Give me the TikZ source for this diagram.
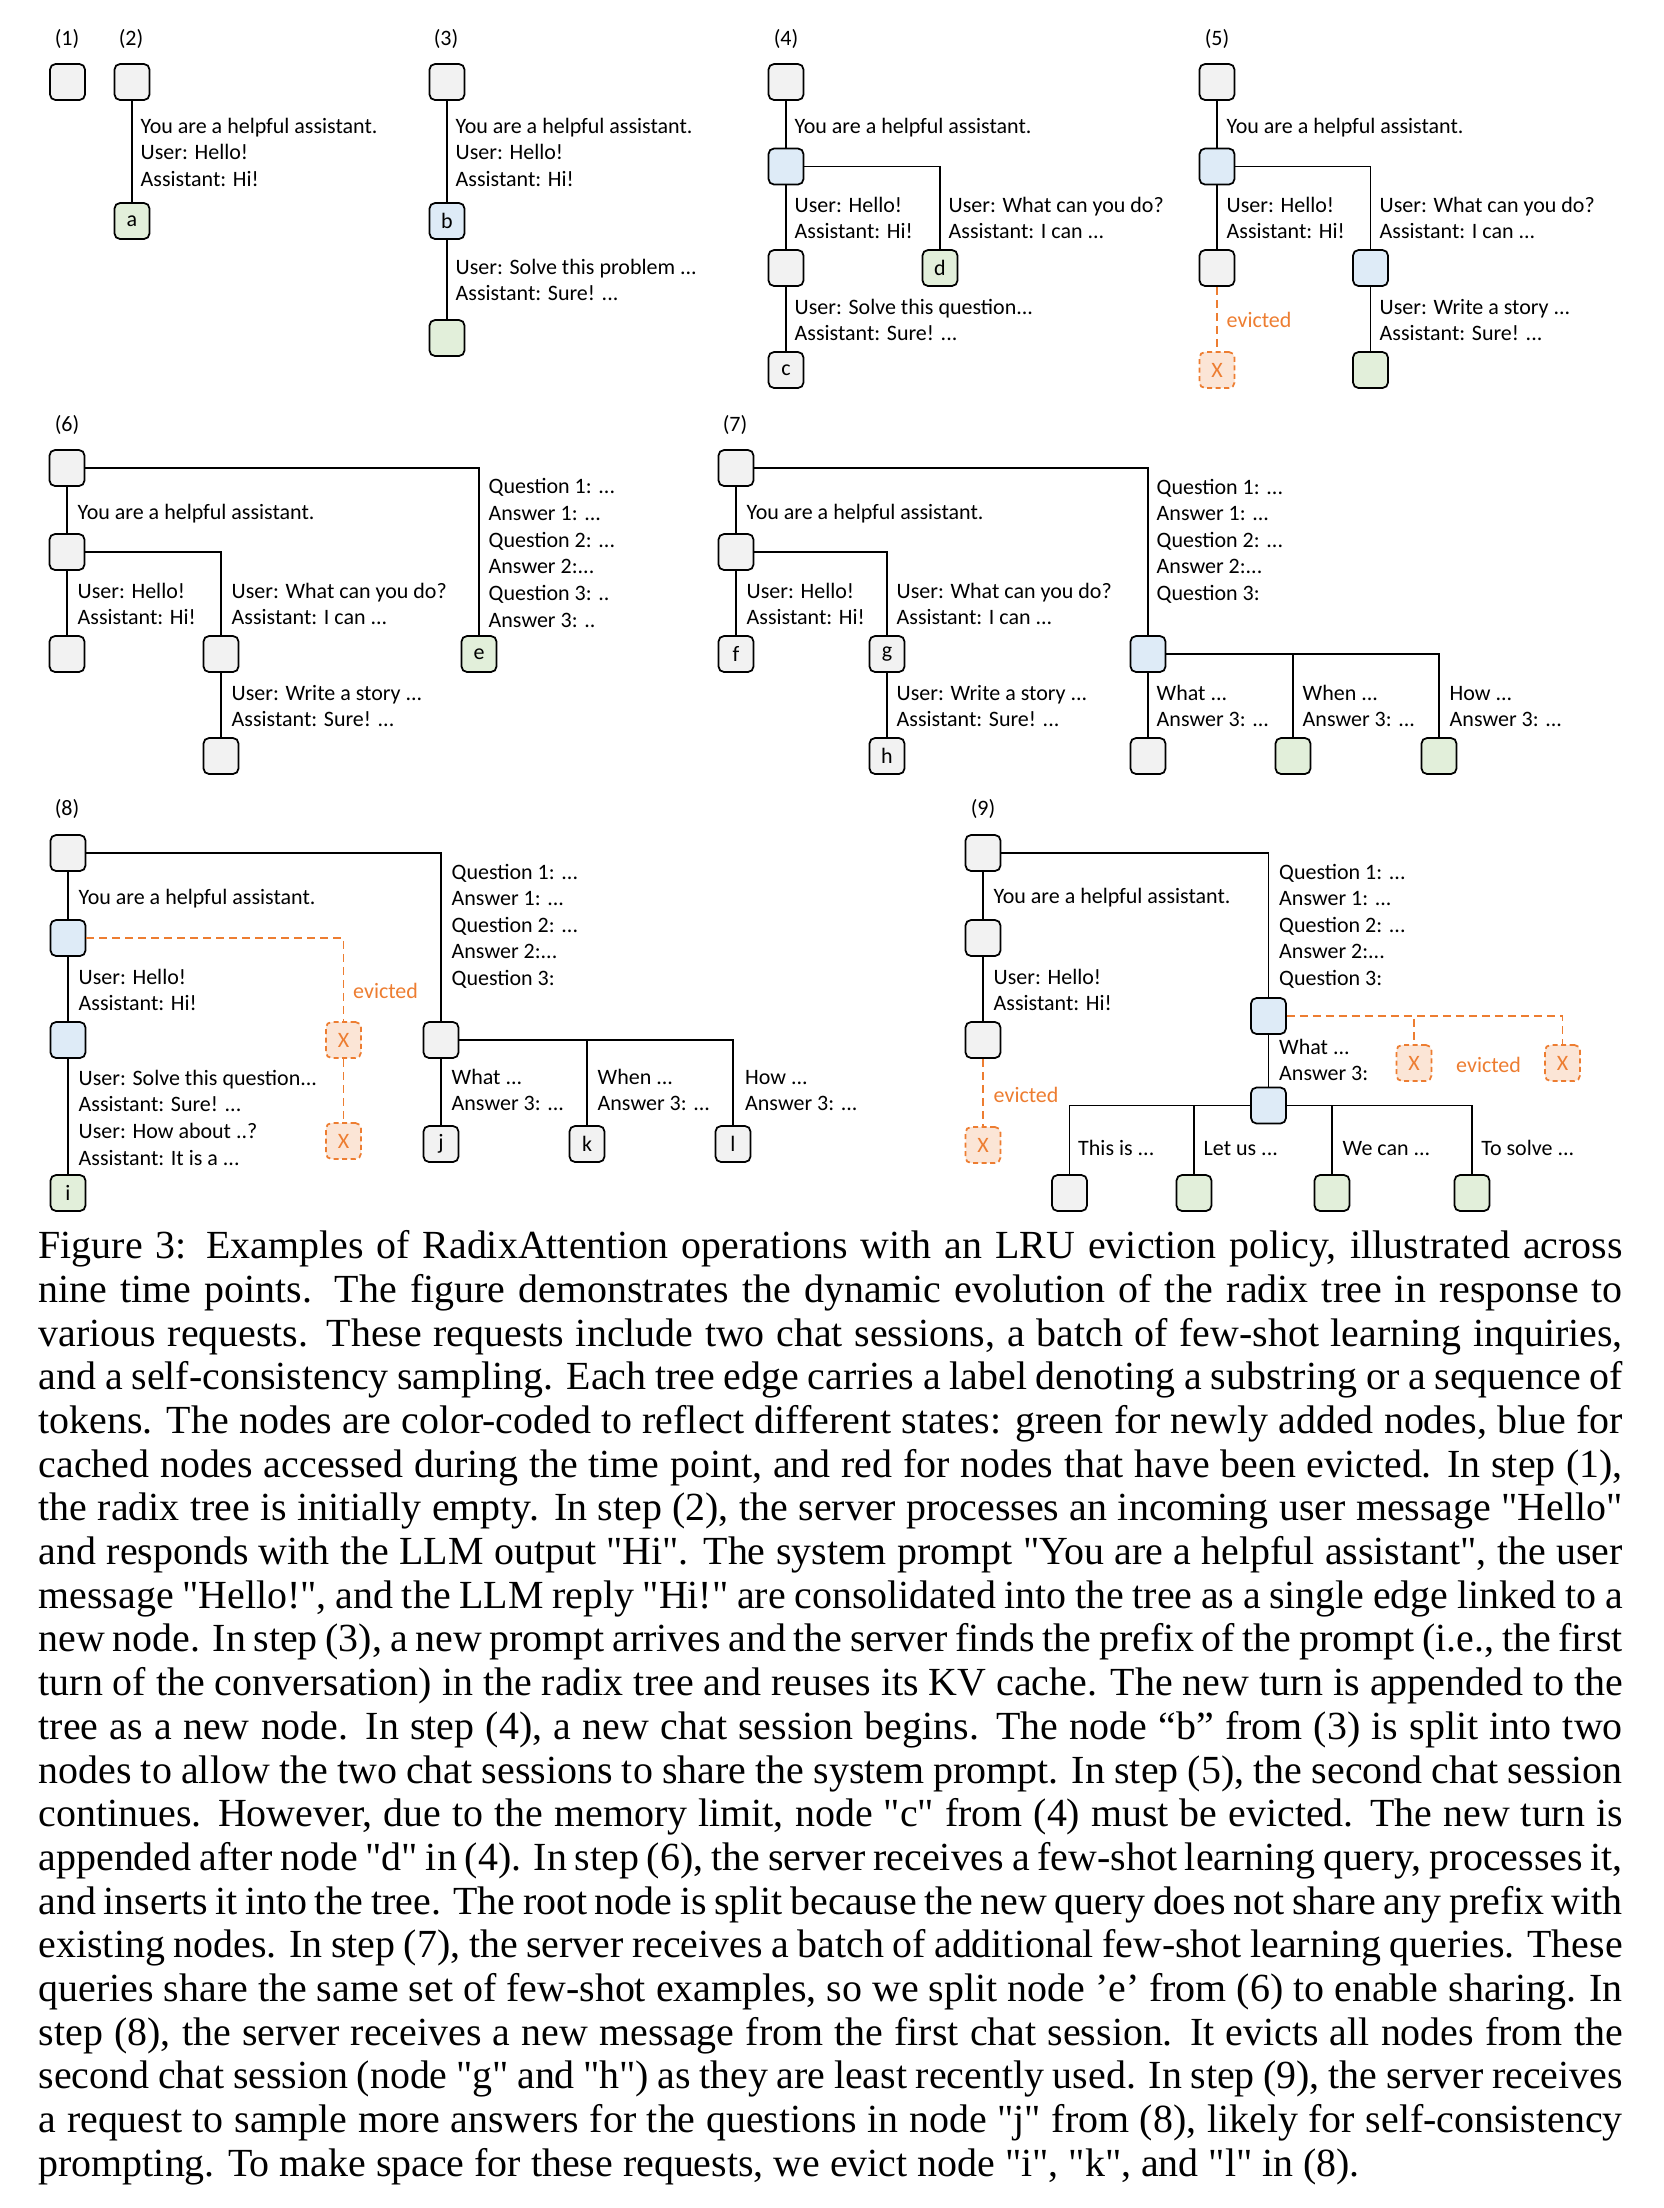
\documentclass[tikz,border=0pt]{standalone}
\usepackage{fontspec}
\setmainfont{Liberation Serif}[Ligatures=TeXOff]
\newfontfamily\carlito{Carlito}
\usepackage{xcolor}
\usepackage{tikz}
\definecolor{radgrey}{HTML}{F2F2F2}
\definecolor{radgreen}{HTML}{E2EFDA}
\definecolor{radblue}{HTML}{DEEBF7}
\definecolor{radpeach}{HTML}{FBE5D6}
\definecolor{radorange}{HTML}{ED7D31}
\newcommand{\diagfont}{\carlito\fontsize{6.26pt}{7.57pt}\selectfont}
\newcommand{\capfont}{\fontsize{11.35pt}{12.43pt}\selectfont}

\begin{document}
\begin{tikzpicture}[x=1mm, y=-1mm,
    nd/.style={rectangle, draw, rounded corners=0.55mm, line width=0.5pt,
               minimum width=3.5mm, minimum height=3.6mm, inner sep=0pt,
               font=\diagfont},
    old/.style={nd, fill=radgrey},
    new/.style={nd, fill=radgreen},
    hit/.style={nd, fill=radblue},
    gone/.style={nd, fill=radpeach, draw=radorange, text=radorange,
                 dash pattern=on 0.5mm off 0.35mm},
    edge/.style={line width=0.45pt},
    evline/.style={line width=0.5pt, draw=radorange,
                   dash pattern=on 0.8mm off 0.5mm},
    % labels are placed at the baseline of their last line
    lbl/.style={anchor=base west, align=left, inner sep=0pt, font=\diagfont},
    evlbl/.style={lbl, text=radorange},
    tag/.style={anchor=base, inner sep=0pt, font=\diagfont},
    capt/.style={anchor=north west, inner sep=0pt, text width=158.4mm,
                 align=justify, font=\capfont},
  ]
  \useasboundingbox (0,0) rectangle (166.4,220.8);

  % (1) empty tree
  \node[tag] (k1) at (6.7,4.5) {(1)};
  \node[old] (n1) at (6.75,8.2) {};

  % (2) first request
  \node[tag] (k2) at (13.1,4.5) {(2)};
  \node[old] (r2) at (13.2,8.2) {};
  \node[new] (a) at (13.2,22.1) {a};
  \draw[edge] (r2) -- (a);
  \node[lbl] (t2) at (14.0,18.64)
    {You are a helpful assistant.\\User: Hello!\\Assistant: Hi!};

  % (3) new turn appended
  \node[tag] (k3) at (44.6,4.5) {(3)};
  \node[old] (r3) at (44.7,8.2) {};
  \node[hit] (b) at (44.7,22.1) {b};
  \node[new] (n3) at (44.7,33.8) {};
  \draw[edge] (r3) -- (b);
  \draw[edge] (b) -- (n3);
  \node[lbl] (t3a) at (45.5,18.64)
    {You are a helpful assistant.\\User: Hello!\\Assistant: Hi!};
  \node[lbl] (t3b) at (45.5,30.07)
    {User: Solve this problem ...\\Assistant: Sure! ...};

  % (4) second chat session, b split
  \node[tag] (k4) at (78.6,4.5) {(4)};
  \node[old] (r4) at (78.6,8.2) {};
  \node[hit] (s4) at (78.6,16.65) {};
  \node[old] (n4) at (78.6,26.8) {};
  \node[old] (c) at (78.6,37.0) {c};
  \node[new] (d) at (94.0,26.8) {d};
  \draw[edge] (r4) -- (s4);
  \draw[edge] (s4) -- (n4);
  \draw[edge] (n4) -- (c);
  \draw[edge] (s4.east) -| (d.north);
  \node[lbl] (t4a) at (79.4,13.3) {You are a helpful assistant.};
  \node[lbl] (t4b) at (79.4,23.87) {User: Hello!\\Assistant: Hi!};
  \node[lbl] (t4c) at (94.8,23.87) {User: What can you do?\\Assistant: I can ...};
  \node[lbl] (t4d) at (79.4,34.07)
    {User: Solve this question...\\Assistant: Sure! ...};

  % (5) c evicted
  \node[tag] (k5) at (121.7,4.5) {(5)};
  \node[old] (r5) at (121.7,8.2) {};
  \node[hit] (s5) at (121.7,16.65) {};
  \node[old] (n5) at (121.7,26.8) {};
  \node[gone] (x5) at (121.7,37.0) {X};
  \node[hit] (m5) at (137.05,26.8) {};
  \node[new] (g5) at (137.05,37.0) {};
  \draw[edge] (r5) -- (s5);
  \draw[edge] (s5) -- (n5);
  \draw[evline] (n5) -- (x5);
  \draw[edge] (s5.east) -| (m5.north);
  \draw[edge] (m5) -- (g5);
  \node[lbl] (t5a) at (122.6,13.3) {You are a helpful assistant.};
  \node[lbl] (t5b) at (122.6,23.87) {User: Hello!\\Assistant: Hi!};
  \node[lbl] (t5c) at (137.9,23.87) {User: What can you do?\\Assistant: I can ...};
  \node[evlbl] (t5d) at (122.6,32.7) {evicted};
  \node[lbl] (t5e) at (137.9,34.07) {User: Write a story ...\\Assistant: Sure! ...};

  % (6) few-shot query, root split
  \node[tag] (k6) at (6.7,43.1) {(6)};
  \node[old] (r6) at (6.7,46.8) {};
  \node[old] (s6) at (6.7,55.2) {};
  \node[old] (n6) at (6.7,65.4) {};
  \node[old] (m6) at (22.1,65.4) {};
  \node[old] (l6) at (22.1,75.6) {};
  \node[new] (e) at (47.9,65.4) {e};
  \draw[edge] (r6) -- (s6);
  \draw[edge] (s6) -- (n6);
  \draw[edge] (s6.east) -| (m6.north);
  \draw[edge] (m6) -- (l6);
  \draw[edge] (r6.east) -| (e.north);
  \node[lbl] (t6a) at (7.7,51.9) {You are a helpful assistant.};
  \node[lbl] (t6b) at (7.7,62.47) {User: Hello!\\Assistant: Hi!};
  \node[lbl] (t6c) at (23.1,62.47) {User: What can you do?\\Assistant: I can ...};
  \node[lbl] (t6d) at (23.1,72.67) {User: Write a story ...\\Assistant: Sure! ...};
  \node[lbl] (t6e) at (48.8,62.7)
    {Question 1: ...\\Answer 1: ...\\Question 2: ...\\Answer 2:...\\Question 3: ..\\Answer 3: ..};

  % (7) batch of few-shot queries, e split
  \node[tag] (k7) at (73.5,43.1) {(7)};
  \node[old] (r7) at (73.6,46.8) {};
  \node[old] (s7) at (73.6,55.2) {};
  \node[old] (f) at (73.6,65.4) {f};
  \node[old] (g) at (88.7,65.4) {g};
  \node[old] (h) at (88.7,75.6) {h};
  \node[hit] (q7) at (114.8,65.4) {};
  \node[old] (w7a) at (114.8,75.6) {};
  \node[new] (w7b) at (129.3,75.6) {};
  \node[new] (w7c) at (143.9,75.6) {};
  \draw[edge] (r7) -- (s7);
  \draw[edge] (s7) -- (f);
  \draw[edge] (s7.east) -| (g.north);
  \draw[edge] (g) -- (h);
  \draw[edge] (r7.east) -| (q7.north);
  \draw[edge] (q7) -- (w7a);
  \draw[edge] (q7.east) -| (w7b.north);
  \draw[edge] (q7.east) -| (w7c.north);
  \node[lbl] (t7a) at (74.6,51.9) {You are a helpful assistant.};
  \node[lbl] (t7b) at (74.6,62.47) {User: Hello!\\Assistant: Hi!};
  \node[lbl] (t7c) at (89.6,62.47) {User: What can you do?\\Assistant: I can ...};
  \node[lbl] (t7d) at (89.6,72.67) {User: Write a story ...\\Assistant: Sure! ...};
  \node[lbl] (t7e) at (115.6,60.05)
    {Question 1: ...\\Answer 1: ...\\Question 2: ...\\Answer 2:...\\Question 3:};
  \node[lbl] (t7f) at (115.6,72.67) {What ...\\Answer 3: ...};
  \node[lbl] (t7g) at (130.2,72.67) {When ...\\Answer 3: ...};
  \node[lbl] (t7h) at (144.9,72.67) {How ...\\Answer 3: ...};

  % (8) g and h evicted
  \node[tag] (k8) at (6.7,81.5) {(8)};
  \node[old] (r8) at (6.8,85.3) {};
  \node[hit] (s8) at (6.8,93.8) {};
  \node[hit] (t8) at (6.8,104.0) {};
  \node[new] (i) at (6.8,119.3) {i};
  \node[gone] (x8a) at (34.35,104.0) {X};
  \node[gone] (x8b) at (34.35,114.1) {X};
  \node[old] (q8) at (44.1,104.0) {};
  \node[old] (j) at (44.1,114.4) {j};
  \node[old] (k) at (58.7,114.4) {k};
  \node[old] (l) at (73.3,114.4) {l};
  \draw[edge] (r8) -- (s8);
  \draw[edge] (s8) -- (t8);
  \draw[edge] (t8) -- (i);
  \draw[evline] (s8.east) -| (x8a.north);
  \draw[evline] (x8a) -- (x8b);
  \draw[edge] (r8.east) -| (q8.north);
  \draw[edge] (q8) -- (j);
  \draw[edge] (q8.east) -| (k.north);
  \draw[edge] (q8.east) -| (l.north);
  \node[lbl] (t8a) at (7.8,90.4) {You are a helpful assistant.};
  \node[lbl] (t8b) at (7.8,101.07) {User: Hello!\\Assistant: Hi!};
  \node[lbl] (t8c) at (7.8,116.5)
    {User: Solve this question...\\Assistant: Sure! ...\\User: How about ..?\\Assistant: It is a ...};
  \node[evlbl] (t8d) at (35.25,99.8) {evicted};
  \node[lbl] (t8e) at (45.1,98.55)
    {Question 1: ...\\Answer 1: ...\\Question 2: ...\\Answer 2:...\\Question 3:};
  \node[lbl] (t8f) at (45.1,111.07) {What ...\\Answer 3: ...};
  \node[lbl] (t8g) at (59.7,111.07) {When ...\\Answer 3: ...};
  \node[lbl] (t8h) at (74.45,111.07) {How ...\\Answer 3: ...};

  % (9) more samples for j, i/k/l evicted
  \node[tag] (k9) at (98.3,81.5) {(9)};
  \node[old] (r9) at (98.3,85.3) {};
  \node[old] (s9) at (98.3,93.8) {};
  \node[old] (t9) at (98.3,104.0) {};
  \node[gone] (x9) at (98.3,114.5) {X};
  \node[hit] (q9) at (126.85,101.6) {};
  \node[hit] (p9) at (126.85,110.55) {};
  \node[gone] (x9a) at (141.4,106.3) {X};
  \node[gone] (x9b) at (156.25,106.3) {X};
  \node[old] (v1) at (106.95,119.3) {};
  \node[new] (v2) at (119.4,119.3) {};
  \node[new] (v3) at (133.2,119.3) {};
  \node[new] (v4) at (147.2,119.3) {};
  \draw[edge] (r9) -- (s9);
  \draw[edge] (s9) -- (t9);
  \draw[evline] (t9) -- (x9);
  \draw[edge] (r9.east) -| (q9.north);
  \draw[edge] (q9) -- (p9);
  \draw[evline] (q9.east) -| (x9a.north);
  \draw[evline] (q9.east) -| (x9b.north);
  \draw[edge] (p9.west) -| (v1.north);
  \draw[edge] (p9.west) -| (v2.north);
  \draw[edge] (p9.east) -| (v3.north);
  \draw[edge] (p9.east) -| (v4.north);
  \node[lbl] (t9a) at (99.3,90.3) {You are a helpful assistant.};
  \node[lbl] (t9b) at (99.3,101.07) {User: Hello!\\Assistant: Hi!};
  \node[evlbl] (t9c) at (99.3,110.2) {evicted};
  \node[lbl] (t9d) at (127.85,98.55)
    {Question 1: ...\\Answer 1: ...\\Question 2: ...\\Answer 2:...\\Question 3:};
  \node[lbl] (t9e) at (127.85,108.07) {What ...\\Answer 3:};
  \node[evlbl] (t9f) at (145.55,107.2) {evicted};
  \node[lbl] (t9g) at (107.75,115.5) {This is ...};
  \node[lbl] (t9h) at (120.3,115.5) {Let us ...};
  \node[lbl] (t9i) at (134.2,115.5) {We can ...};
  \node[lbl] (t9j) at (148.06,115.5) {To solve ...};

  % caption
  \node[capt] (caption) at (3.8,123.0) {Figure 3: Examples of RadixAttention operations with an LRU eviction policy, illustrated across\linebreak
nine time points. The figure demonstrates the dynamic evolution of the radix tree in response to\linebreak
various requests. These requests include two chat sessions, a batch of few-shot learning inquiries,\linebreak
and a self-consistency sampling. Each tree edge carries a label denoting a substring or a sequence of\linebreak
tokens. The nodes are color-coded to reflect different states: green for newly added nodes, blue for\linebreak
cached nodes accessed during the time point, and red for nodes that have been evicted. In step (1),\linebreak
the radix tree is initially empty. In step (2), the server processes an incoming user message "Hello"\linebreak
and responds with the LLM output "Hi". The system prompt "You are a helpful assistant", the user\linebreak
message "Hello!", and the LLM reply "Hi!" are consolidated into the tree as a single edge linked to a\linebreak
new node. In step (3), a new prompt arrives and the server finds the prefix of the prompt (i.e., the first\linebreak
turn of the conversation) in the radix tree and reuses its KV cache. The new turn is appended to the\linebreak
tree as a new node. In step (4), a new chat session begins. The node “b” from (3) is split into two\linebreak
nodes to allow the two chat sessions to share the system prompt. In step (5), the second chat session\linebreak
continues. However, due to the memory limit, node "c" from (4) must be evicted. The new turn is\linebreak
appended after node "d" in (4). In step (6), the server receives a few-shot learning query, processes it,\linebreak
and inserts it into the tree. The root node is split because the new query does not share any prefix with\linebreak
existing nodes. In step (7), the server receives a batch of additional few-shot learning queries. These\linebreak
queries share the same set of few-shot examples, so we split node ’e’ from (6) to enable sharing. In\linebreak
step (8), the server receives a new message from the first chat session. It evicts all nodes from the\linebreak
second chat session (node "g" and "h") as they are least recently used. In step (9), the server receives\linebreak
a request to sample more answers for the questions in node "j" from (8), likely for self-consistency\linebreak
prompting. To make space for these requests, we evict node "i", "k", and "l" in (8).};
\end{tikzpicture}
\end{document}
